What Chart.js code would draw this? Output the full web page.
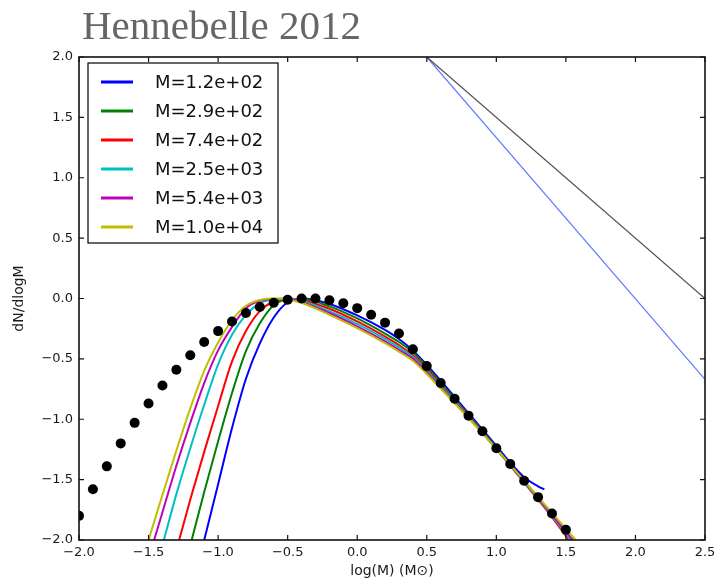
<!DOCTYPE html>
<html>
<head>
<meta charset="utf-8">
<title>Hennebelle 2012</title>
<script src="https://cdn.jsdelivr.net/npm/chart.js@4.4.1/dist/chart.umd.min.js"></script>
<style>
  html, body { margin: 0; padding: 0; background: #fff; }
</style>
</head>
<body>
<canvas id="imfChart" width="722" height="585"></canvas>
<script>
// black dots (observed IMF)
const dotX = [-2.0, -1.9, -1.8, -1.7, -1.6, -1.5, -1.4, -1.3, -1.2, -1.1, -1.0, -0.9,
              -0.8, -0.7, -0.6, -0.5, -0.4, -0.3, -0.2, -0.1, 0.0, 0.1, 0.2, 0.3,
              0.4, 0.5, 0.6, 0.7, 0.8, 0.9, 1.0, 1.1, 1.2, 1.3, 1.4, 1.5];
const dotY = [-1.80, -1.58, -1.39, -1.20, -1.03, -0.87, -0.72, -0.59, -0.47, -0.36, -0.27, -0.19,
              -0.12, -0.07, -0.035, -0.01, 0.0, 0.0, -0.015, -0.04, -0.08, -0.135, -0.20, -0.29,
              -0.42, -0.56, -0.70, -0.83, -0.97, -1.10, -1.24, -1.37, -1.51, -1.645, -1.78, -1.915];

// model curves, one per cloud mass
const massLabels = ['M=1.2e+02', 'M=2.9e+02', 'M=7.4e+02', 'M=2.5e+03', 'M=5.4e+03', 'M=1.0e+04'];
const curveColors = ['#0000ff', '#008000', '#ff0000', '#00bfbf', '#bf00bf', '#bfbf00'];

const blueX = [-1.1, -1.0, -0.9, -0.8, -0.7, -0.6, -0.5, -0.4, -0.2, 0.0, 0.2, 0.3, 0.4, 0.5, 0.6, 0.8, 1.0, 1.1, 1.2, 1.3, 1.345];
const blueY = [-2.0, -1.538, -1.073, -0.665, -0.372, -0.157, -0.031, 0.0, -0.045, -0.14, -0.26, -0.335, -0.43, -0.55, -0.68, -0.95, -1.22, -1.36, -1.48, -1.555, -1.58];

const greenX = [-1.19, -1.1, -1.0, -0.9, -0.8, -0.7, -0.6, -0.5, -0.4, -0.2, 0.0, 0.2, 0.3, 0.4, 0.5, 0.6, 0.8, 1.0, 1.2, 1.4, 1.54];
const greenY = [-2.0, -1.603, -1.183, -0.783, -0.436, -0.205, -0.055, -0.008, -0.005, -0.065, -0.165, -0.29, -0.36, -0.445, -0.565, -0.70, -0.965, -1.235, -1.51, -1.79, -2.0];

const redX = [-1.28, -1.2, -1.1, -1.0, -0.9, -0.8, -0.7, -0.6, -0.5, -0.4, -0.2, 0.0, 0.2, 0.3, 0.4, 0.5, 0.6, 0.8, 1.0, 1.2, 1.4, 1.52];
const redY = [-2.0, -1.665, -1.27, -0.89, -0.52, -0.27, -0.105, -0.025, -0.003, -0.012, -0.085, -0.19, -0.315, -0.385, -0.47, -0.585, -0.715, -0.975, -1.245, -1.525, -1.81, -2.0];

const cyanX = [-1.39, -1.3, -1.2, -1.1, -1.0, -0.9, -0.8, -0.7, -0.6, -0.5, -0.4, -0.2, 0.0, 0.2, 0.3, 0.4, 0.5, 0.6, 0.8, 1.0, 1.2, 1.4, 1.535];
const cyanY = [-2.0, -1.62, -1.24, -0.88, -0.545, -0.30, -0.135, -0.04, -0.007, 0.0, -0.02, -0.105, -0.21, -0.335, -0.405, -0.485, -0.60, -0.725, -0.98, -1.245, -1.52, -1.80, -2.0];

const magentaX = [-1.46, -1.4, -1.3, -1.2, -1.1, -1.0, -0.9, -0.8, -0.7, -0.6, -0.5, -0.4, -0.2, 0.0, 0.2, 0.3, 0.4, 0.5, 0.6, 0.8, 1.0, 1.2, 1.4, 1.55];
const magentaY = [-2.0, -1.77, -1.385, -1.03, -0.70, -0.43, -0.235, -0.08, -0.02, -0.004, -0.003, -0.03, -0.12, -0.23, -0.355, -0.425, -0.50, -0.612, -0.735, -0.985, -1.245, -1.515, -1.79, -2.0];

const yellowX = [-1.5, -1.4, -1.3, -1.2, -1.1, -1.0, -0.9, -0.8, -0.7, -0.6, -0.5, -0.4, -0.2, 0.0, 0.2, 0.3, 0.4, 0.5, 0.6, 0.8, 1.0, 1.2, 1.4, 1.57];
const yellowY = [-2.0, -1.625, -1.26, -0.91, -0.60, -0.365, -0.18, -0.06, -0.012, 0.0, -0.008, -0.035, -0.135, -0.245, -0.37, -0.44, -0.515, -0.625, -0.745, -0.99, -1.245, -1.51, -1.775, -2.0];

// two power-law reference lines
const slopeX = [0.5, 2.5];
const slopeBlackY = [2.0, 0.0];
const slopeBlueY = [2.0, -0.67];

const xTicksMin = -2.0, xTicksMax = 2.5, yTicksMin = -2.0, yTicksMax = 2.0, tickStep = 0.5;

const toPoints = (xs, ys) => xs.map((x, i) => ({ x: x, y: ys[i] }));
const fmt = v => v.toFixed(1).replace('-', '\u2212');

const curveData = [
    [blueX, blueY], [greenX, greenY], [redX, redY],
    [cyanX, cyanY], [magentaX, magentaY], [yellowX, yellowY]
];

const datasets = [];
datasets.push({
    label: 'data',
    data: toPoints(dotX, dotY),
    showLine: false,
    pointRadius: 5,
    pointBackgroundColor: '#000',
    pointBorderWidth: 0,
    order: 0,
    clip: 0
});
curveData.forEach((c, i) => {
    datasets.push({
        label: massLabels[i],
        data: toPoints(c[0], c[1]),
        showLine: true,
        borderColor: curveColors[i],
        borderWidth: 2,
        pointRadius: 0,
        cubicInterpolationMode: 'monotone',
        order: 6 - i,
        clip: 0
    });
});
datasets.push({
    label: 'slope black',
    data: toPoints(slopeX, slopeBlackY),
    showLine: true,
    borderColor: '#505050',
    borderWidth: 1.2,
    pointRadius: 0,
    order: 7,
    clip: 0
});
datasets.push({
    label: 'slope blue',
    data: toPoints(slopeX, slopeBlueY),
    showLine: true,
    borderColor: '#5f78ff',
    borderWidth: 1.2,
    pointRadius: 0,
    order: 8,
    clip: 0
});

// frame round the plot and inward ticks on all four sides
const frameTicks = {
    id: 'frameTicks',
    afterDatasetsDraw(chart) {
        const { ctx, chartArea: a, scales: { x, y } } = chart;
        ctx.save();
        ctx.strokeStyle = '#111';
        ctx.lineWidth = 1.2;
        ctx.beginPath();
        x.ticks.forEach(t => {
            const px = x.getPixelForValue(t.value);
            ctx.moveTo(px, a.bottom); ctx.lineTo(px, a.bottom - 5);
            ctx.moveTo(px, a.top); ctx.lineTo(px, a.top + 5);
        });
        y.ticks.forEach(t => {
            const py = y.getPixelForValue(t.value);
            ctx.moveTo(a.left, py); ctx.lineTo(a.left + 5, py);
            ctx.moveTo(a.right, py); ctx.lineTo(a.right - 5, py);
        });
        ctx.stroke();
        ctx.lineWidth = 1.6;
        ctx.strokeRect(a.left, a.top, a.right - a.left, a.bottom - a.top);
        ctx.restore();
    }
};

// legend box in the upper left of the plot
const boxLegend = {
    id: 'boxLegend',
    afterDraw(chart) {
        const { ctx, chartArea: a } = chart;
        const left = a.left + 9, top = a.top + 6, w = 190, h = 180;
        ctx.save();
        ctx.fillStyle = '#fff';
        ctx.fillRect(left, top, w, h);
        ctx.strokeStyle = '#000';
        ctx.lineWidth = 1.2;
        ctx.strokeRect(left, top, w, h);
        ctx.font = '18px "DejaVu Sans"';
        ctx.textBaseline = 'middle';
        massLabels.forEach((lab, i) => {
            const yy = top + 19 + i * 29;
            ctx.strokeStyle = curveColors[i];
            ctx.lineWidth = 3;
            ctx.beginPath();
            ctx.moveTo(left + 13, yy);
            ctx.lineTo(left + 45, yy);
            ctx.stroke();
            ctx.fillStyle = '#111';
            ctx.fillText(lab, left + 67, yy + 1);
        });
        ctx.restore();
    }
};

// heading above the plot
const heading = {
    id: 'heading',
    afterDraw(chart) {
        const ctx = chart.ctx;
        ctx.save();
        ctx.font = '41px "Liberation Serif"';
        ctx.fillStyle = '#666';
        ctx.textBaseline = 'alphabetic';
        ctx.fillText('Hennebelle 2012', 82, 39);
        ctx.restore();
    }
};

const tickFont = { family: 'DejaVu Sans', size: 13 };

new Chart(document.getElementById('imfChart'), {
    type: 'scatter',
    data: { datasets: datasets },
    options: {
        responsive: false,
        animation: false,
        layout: { padding: { left: 0, top: 57, right: 17, bottom: 0 } },
        plugins: {
            legend: { display: false },
            tooltip: { enabled: false },
            title: { display: false }
        },
        scales: {
            x: {
                type: 'linear',
                min: xTicksMin,
                max: xTicksMax,
                afterFit: s => { s.height = 45; },
                grid: { display: false, drawTicks: false },
                border: { display: false },
                ticks: { stepSize: tickStep, padding: 5, color: '#1a1a1a', font: tickFont, callback: fmt },
                title: {
                    display: true,
                    text: 'log(M) (M\u2299)',
                    color: '#1a1a1a',
                    font: { family: 'DejaVu Sans', size: 14 },
                    padding: { top: 0, bottom: 5 }
                }
            },
            y: {
                type: 'linear',
                min: yTicksMin,
                max: yTicksMax,
                afterFit: s => { s.width = 79; },
                grid: { display: false, drawTicks: false },
                border: { display: false },
                ticks: { stepSize: tickStep, padding: 6, color: '#1a1a1a', font: tickFont, callback: fmt },
                title: {
                    display: true,
                    text: 'dN/dlogM',
                    color: '#1a1a1a',
                    font: { family: 'DejaVu Sans', size: 14 },
                    padding: { top: 11, bottom: 0 }
                }
            }
        }
    },
    plugins: [frameTicks, boxLegend, heading]
});
</script>
</body>
</html>
